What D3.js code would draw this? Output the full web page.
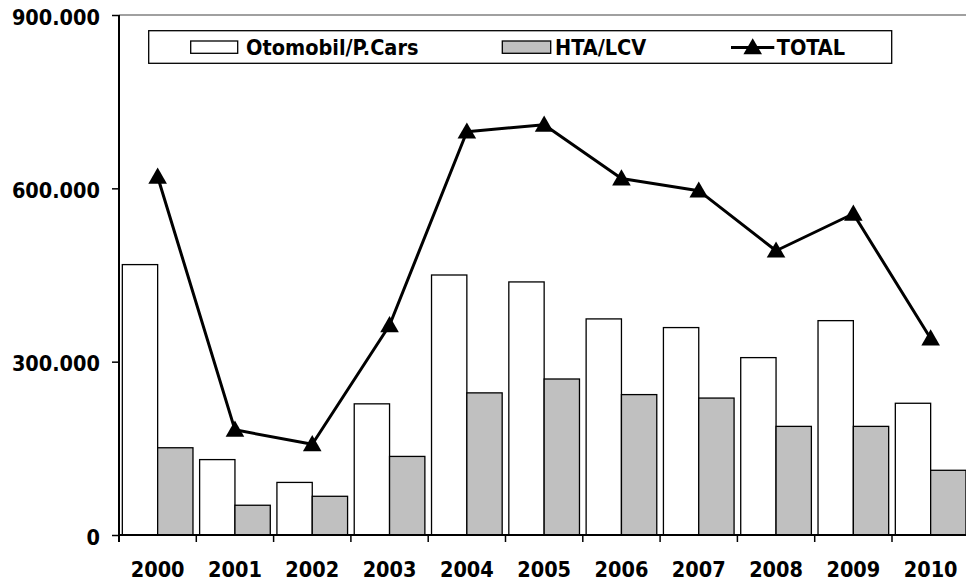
<!DOCTYPE html>
<html>
<head>
<meta charset="utf-8">
<script src="https://cdn.jsdelivr.net/npm/d3@7"></script>
<style>
  html, body { margin: 0; padding: 0; background: #fff; }
  svg { display: block; }
  text { font-family: "DejaVu Sans Condensed", "DejaVu Sans", sans-serif; font-weight: bold; font-stretch: condensed; fill: #000; }
</style>
</head>
<body>
<svg id="chart" width="966" height="584"></svg>
<script>
const years = ["2000","2001","2002","2003","2004","2005","2006","2007","2008","2009","2010"];
const cars  = [468, 130.5, 91, 227, 450, 438, 374, 359, 307, 371, 228];   // thousands
const lcv   = [151, 51.5, 67, 136, 246, 270, 243, 237, 188, 188, 112];
const total = [620, 182, 157, 363, 698, 710, 617, 596, 492, 556, 340];
const yTicks = [0, 300, 600, 900];
const yTickLabels = ["0", "300.000", "600.000", "900.000"];
const seriesNames = ["Otomobil/P.Cars", "HTA/LCV", "TOTAL"];

const svg = d3.select("#chart");
const plotLeft = 119, plotBottom = 535, plotTop = 15, slotW = 77.3;
const plotRight = plotLeft + years.length * slotW;

const x = d3.scaleBand().domain(years).range([plotLeft, plotRight]).padding(0);
const inner = d3.scaleBand().domain(["cars","lcv"]).range([x.bandwidth()*0.043, x.bandwidth()*0.957]).padding(0);
const y = d3.scaleLinear().domain([0, 900]).range([plotBottom, plotTop]);

// plot area top border (grey)
svg.append("line").attr("x1", plotLeft).attr("x2", 966).attr("y1", plotTop).attr("y2", plotTop)
  .attr("stroke", "#808080").attr("stroke-width", 1.5);

// bars
const g = svg.append("g");
years.forEach((yr, i) => {
  g.append("rect").attr("x", x(yr) + inner("cars")).attr("y", y(cars[i]))
    .attr("width", inner.bandwidth()).attr("height", y(0) - y(cars[i]))
    .attr("fill", "#ffffff").attr("stroke", "#000").attr("stroke-width", 1.3);
  g.append("rect").attr("x", x(yr) + inner("lcv")).attr("y", y(lcv[i]))
    .attr("width", inner.bandwidth()).attr("height", y(0) - y(lcv[i]))
    .attr("fill", "#c0c0c0").attr("stroke", "#000").attr("stroke-width", 1.3);
});

// total line
const cx = d => x(d) + x.bandwidth()/2;
const line = d3.line().x((d,i) => cx(years[i])).y(d => y(d));
svg.append("path").datum(total).attr("d", line).attr("fill", "none")
  .attr("stroke", "#000").attr("stroke-width", 3).attr("stroke-linejoin", "round");
const tri = d3.symbol().type(d3.symbolTriangle).size(150);
svg.selectAll(".mk").data(total).enter().append("path")
  .attr("transform", (d,i) => `translate(${cx(years[i])},${y(d)+1.5})`)
  .attr("d", tri).attr("fill", "#000");

// y axis
const yAxis = d3.axisLeft(y).tickValues(yTicks).tickFormat((d,i) => yTickLabels[i]).tickSize(7).tickPadding(12);
const ya = svg.append("g").attr("transform", `translate(${plotLeft},0)`).call(yAxis);
ya.select(".domain").attr("stroke", "#000").attr("stroke-width", 2).attr("d", `M0,${plotTop}V${plotBottom+7}`);
ya.selectAll(".tick line").attr("stroke", "#000").attr("stroke-width", 1.5);
ya.selectAll(".tick text").attr("font-size", 21.5).attr("dy", "0.42em")
  .style("font-family", '"DejaVu Sans Condensed", "DejaVu Sans", sans-serif').style("font-weight", "bold");

// x axis
const xa = svg.append("g").attr("transform", `translate(0,${plotBottom})`);
xa.append("line").attr("x1", plotLeft).attr("x2", 966).attr("stroke", "#000").attr("stroke-width", 2);
const boundaries = years.map(yr => x(yr) + x.bandwidth()).slice(0, -1);
xa.selectAll(".xt").data(boundaries).enter().append("line")
  .attr("x1", d => d).attr("x2", d => d).attr("y1", 0).attr("y2", 7)
  .attr("stroke", "#000").attr("stroke-width", 1.5);
xa.selectAll(".xl").data(years).enter().append("text")
  .attr("x", d => cx(d)).attr("y", 42).attr("text-anchor", "middle")
  .attr("font-size", 21.5).text(d => d);

// legend
const lg = svg.append("g");
lg.append("rect").attr("x", 148.7).attr("y", 30.7).attr("width", 743).attr("height", 32.6)
  .attr("fill", "#fff").attr("stroke", "#000").attr("stroke-width", 1.3);
lg.append("rect").attr("x", 190.7).attr("y", 41).attr("width", 47).attr("height", 12.3)
  .attr("fill", "#fff").attr("stroke", "#000").attr("stroke-width", 1.3);
lg.append("text").attr("x", 246).attr("y", 55).attr("font-size", 21.5).text(seriesNames[0]);
lg.append("rect").attr("x", 502.3).attr("y", 41).attr("width", 48.4).attr("height", 12.3)
  .attr("fill", "#c0c0c0").attr("stroke", "#000").attr("stroke-width", 1.3);
lg.append("text").attr("x", 555).attr("y", 55).attr("font-size", 21.5).text(seriesNames[1]);
lg.append("line").attr("x1", 731).attr("x2", 774.3).attr("y1", 47.5).attr("y2", 47.5)
  .attr("stroke", "#000").attr("stroke-width", 3);
lg.append("path").attr("transform", "translate(752.7,49)").attr("d", tri).attr("fill", "#000");
lg.append("text").attr("x", 776.7).attr("y", 55).attr("font-size", 21.5).text(seriesNames[2]);
</script>
</body>
</html>
